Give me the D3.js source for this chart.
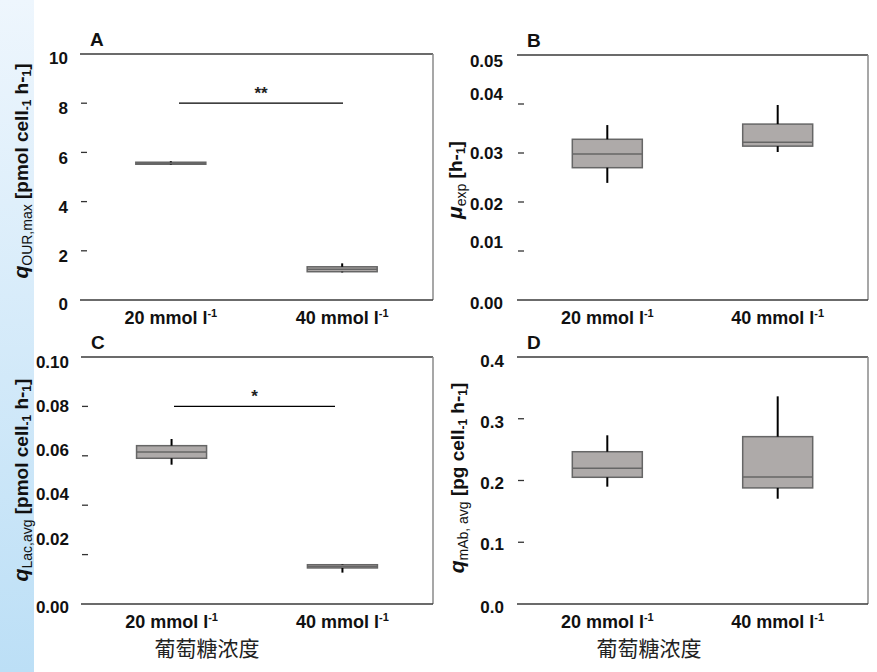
<!DOCTYPE html>
<html>
<head>
<meta charset="utf-8">
<script src="https://cdn.jsdelivr.net/npm/d3@7"></script>
<style>
  body { margin: 0; background: #fff; }
  svg { display: block; font-family: "Liberation Sans", Arial, sans-serif; }
</style>
</head>
<body>
<div id="chart"></div>
<script>
// glucose concentration groups
const categories = ["20", "40"];

// box stats (min, q1, median, q3, max)
const qOURmax = [
    { min: 5.50, q1: 5.52, median: 5.56, q3: 5.60, max: 5.64 },
    { min: 1.12, q1: 1.15, median: 1.25, q3: 1.35, max: 1.49 }
];
const muExp = [
    { min: 0.0239, q1: 0.0270, median: 0.0298, q3: 0.0328, max: 0.0357 },
    { min: 0.0302, q1: 0.0314, median: 0.0322, q3: 0.0359, max: 0.0398 }
];
const qLacAvg = [
    { min: 0.0564, q1: 0.0590, median: 0.0615, q3: 0.0641, max: 0.0668 },
    { min: 0.0127, q1: 0.0146, median: 0.0152, q3: 0.0159, max: 0.0161 }
];
const qMAbAvg = [
    { min: 0.190, q1: 0.2052, median: 0.2197, q3: 0.2466, max: 0.2732 },
    { min: 0.1705, q1: 0.188, median: 0.2057, q3: 0.271, max: 0.3363 }
];

const ticksA = [0, 2, 4, 6, 8, 10];
const ticksB = [0, 0.01, 0.02, 0.03, 0.04, 0.05];
const ticksC = [0, 0.02, 0.04, 0.06, 0.08, 0.10];
const ticksD = [0, 0.1, 0.2, 0.3, 0.4];

// significance brackets: level, label
const sigA = { y: 8, label: "**" };
const sigC = { y: 0.08, label: "*" };

const xTitle = "葡萄糖浓度";

const width = 877, height = 672;

const svg = d3.select("#chart").append("svg")
    .attr("width", width)
    .attr("height", height);

// light blue strip on the left
const grad = svg.append("defs").append("linearGradient")
    .attr("id", "band").attr("x1", 0).attr("y1", 0).attr("x2", 0).attr("y2", 1);
grad.append("stop").attr("offset", "0%").attr("stop-color", "#eef6fd");
grad.append("stop").attr("offset", "100%").attr("stop-color", "#bcdff6");
svg.append("rect").attr("x", 0).attr("y", 0).attr("width", 34).attr("height", height)
    .attr("fill", "url(#band)");

const panels = [
    { letter: "A", data: qOURmax, ticks: ticksA, fmt: d3.format("d"), max: 10,
      x0: 80, x1: 433, y0: 54, y1: 300, labelX: 68, labelShift: [4, 5, 5, 5, 5, 4],
      sig: sigA, sigX: [179, 343],
      title: { x: 28, y: 171, parts: [["q", "main it"], ["OUR,max", "sub"], [" [pmol cel", "main"], ["l", "main"], ["-1", "sub2"], [" h-", "main"], ["1", "sub2"], ["]", "main"]] } },
    { letter: "B", data: muExp, ticks: ticksB, fmt: d3.format(".2f"), max: 0.05,
      x0: 517, x1: 868, y0: 55, y1: 300, labelX: 503, labelShift: [3, -9, 2, 0, -10, 6],
      title: { x: 462, y: 180, parts: [["μ", "main it"], ["exp", "sub"], [" [h-", "main"], ["1", "sub2"], ["]", "main"]] } },
    { letter: "C", data: qLacAvg, ticks: ticksC, fmt: d3.format(".2f"), max: 0.1,
      x0: 81, x1: 433, y0: 357, y1: 604, labelX: 69, labelShift: [3, -16, -11, -6, -1, 5],
      sig: sigC, sigX: [174, 335], xTitle: true, xTitleX: 207,
      title: { x: 28, y: 480, parts: [["q", "main it"], ["Lac,avg", "sub"], [" [pmol cel", "main"], ["l", "main"], ["-1", "sub2"], [" h-", "main"], ["1", "sub2"], ["]", "main"]] } },
    { letter: "D", data: qMAbAvg, ticks: ticksD, fmt: d3.format(".1f"), max: 0.4,
      x0: 517, x1: 868, y0: 357, y1: 604, labelX: 504, labelShift: [3, 2, 2, 3, 4],
      xTitle: true, xTitleX: 649,
      title: { x: 464, y: 478, parts: [["q", "main it"], ["mAb, avg", "sub"], [" [pg cel", "main"], ["l", "main"], ["-1", "sub2"], [" h-", "main"], ["1", "sub2"], ["]", "main"]] } }
];

panels.forEach(p => {
    const g = svg.append("g");

    const y = d3.scaleLinear().domain([0, p.max]).range([p.y1, p.y0]);
    const x = d3.scalePoint().domain(categories).range([p.x0, p.x1]).padding(0.53);
    const boxW = 70;

    // frame: top, right, bottom (no left line)
    g.append("line").attr("x1", p.x0).attr("x2", p.x1).attr("y1", p.y0).attr("y2", p.y0)
        .attr("stroke", "#3a3a3a").attr("stroke-width", 1.5);
    g.append("line").attr("x1", p.x1).attr("x2", p.x1).attr("y1", p.y0).attr("y2", p.y1)
        .attr("stroke", "#8a8a8a").attr("stroke-width", 1.5);
    g.append("line").attr("x1", p.x0).attr("x2", p.x1).attr("y1", p.y1).attr("y2", p.y1)
        .attr("stroke", "#3a3a3a").attr("stroke-width", 1.5);

    // y ticks (short dashes inside the frame)
    g.selectAll(".tick").data(p.ticks.slice(1, -1)).enter().append("line")
        .attr("x1", p.x0 + 1).attr("x2", p.x0 + 7)
        .attr("y1", d => y(d)).attr("y2", d => y(d))
        .attr("stroke", "#333").attr("stroke-width", 1.3);

    g.selectAll(".tlab").data(p.ticks).enter().append("text")
        .attr("x", p.labelX)
        .attr("y", (d, i) => y(d) + p.labelShift[i])
        .attr("dy", "0.36em")
        .attr("text-anchor", "end")
        .attr("font-size", 17).attr("font-weight", "bold").attr("fill", "#111")
        .text(d => p.fmt(d));

    // x category labels
    const xl = g.selectAll(".xlab").data(categories).enter().append("text")
        .attr("x", d => x(d))
        .attr("y", p.y1 + 24)
        .attr("text-anchor", "middle")
        .attr("font-size", 18).attr("font-weight", "bold").attr("fill", "#111");
    xl.append("tspan").text(d => d + " mmol l");
    xl.append("tspan").attr("dy", -7).attr("font-size", 11).text("-1");

    // boxes
    const box = g.selectAll(".box").data(p.data).enter().append("g");
    box.append("rect")
        .attr("x", (d, i) => x(categories[i]) - boxW / 2)
        .attr("width", boxW)
        .attr("y", d => y(d.q3))
        .attr("height", d => Math.max(2, y(d.q1) - y(d.q3)))
        .attr("fill", "#aeaaa9").attr("stroke", "#666").attr("stroke-width", 1.5);
    box.append("line")
        .attr("x1", (d, i) => x(categories[i]) - boxW / 2)
        .attr("x2", (d, i) => x(categories[i]) + boxW / 2)
        .attr("y1", d => y(d.median)).attr("y2", d => y(d.median))
        .attr("stroke", "#666").attr("stroke-width", 1.5);
    box.append("line")
        .attr("x1", (d, i) => x(categories[i])).attr("x2", (d, i) => x(categories[i]))
        .attr("y1", d => y(d.max)).attr("y2", d => y(d.q3))
        .attr("stroke", "#000").attr("stroke-width", 2);
    box.append("line")
        .attr("x1", (d, i) => x(categories[i])).attr("x2", (d, i) => x(categories[i]))
        .attr("y1", d => y(d.q1)).attr("y2", d => y(d.min))
        .attr("stroke", "#000").attr("stroke-width", 2);

    // significance bracket
    if (p.sig) {
        g.append("line").attr("x1", p.sigX[0]).attr("x2", p.sigX[1])
            .attr("y1", y(p.sig.y)).attr("y2", y(p.sig.y))
            .attr("stroke", "#000").attr("stroke-width", 1.2);
        g.append("text")
            .attr("x", (p.sigX[0] + p.sigX[1]) / 2)
            .attr("y", y(p.sig.y) - 4)
            .attr("text-anchor", "middle")
            .attr("font-size", 17).attr("font-weight", "bold").attr("fill", "#222")
            .text(p.sig.label);
    }

    // panel letter
    g.append("text").attr("x", p.x0 + 10).attr("y", p.y0 - 8)
        .attr("font-size", 19).attr("font-weight", "bold").attr("fill", "#111")
        .text(p.letter);

    // rotated y title with sub/superscripts
    const t = g.append("text")
        .attr("transform", `translate(${p.title.x},${p.title.y}) rotate(-90)`)
        .attr("text-anchor", "middle").attr("fill", "#111");
    let shift = 0;
    p.title.parts.forEach(([txt, kind]) => {
        const s = t.append("tspan").text(txt);
        let target = 0;
        if (kind === "main it") {
            s.attr("font-size", 21).attr("font-weight", "bold").attr("font-style", "italic");
        } else if (kind === "main") {
            s.attr("font-size", 19).attr("font-weight", "bold");
        } else if (kind === "sub") {
            s.attr("font-size", 14);
            target = 4;
        } else {
            s.attr("font-size", 12).attr("font-weight", "bold");
            target = 3;
        }
        s.attr("dy", target - shift);
        shift = target;
    });

    if (p.xTitle) {
        g.append("text").attr("x", p.xTitleX).attr("y", p.y1 + 52)
            .attr("text-anchor", "middle")
            .attr("font-family", "'Noto Sans CJK SC', sans-serif")
            .attr("font-size", 21).attr("fill", "#222")
            .text(xTitle);
    }
});
</script>
</body>
</html>
